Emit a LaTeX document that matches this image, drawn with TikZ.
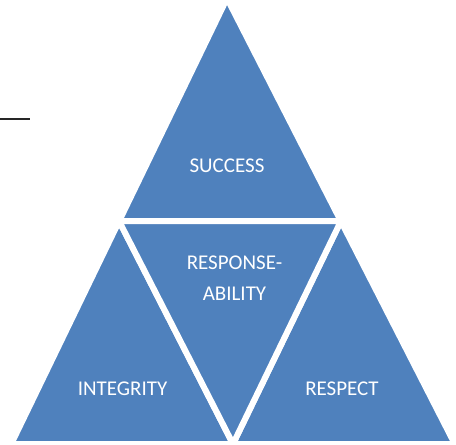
\documentclass[tikz,border=0pt]{standalone}
\usepackage{fontspec}
\setmainfont{Carlito}
\usetikzlibrary{calc}
\definecolor{pyrblue}{HTML}{4F81BD}

\begin{document}
\begin{tikzpicture}[x=1pt,y=-1pt,
    segment/.style={fill=pyrblue,draw=white,line width=6pt,line join=miter},
    word/.style={text=white,font=\fontsize{21}{31}\selectfont,align=center,inner sep=0pt},
    stub/.style={draw=black!85,line width=1.6pt}]
  \useasboundingbox (0,0) rectangle (456,445);
  \coordinate (apex) at (227,-1.7);
  \coordinate (base-l) at (11.2,444);
  \coordinate (base-r) at (454.8,444);
  \coordinate (mid-l) at ($(apex)!0.5!(base-l)$);
  \coordinate (mid-r) at ($(apex)!0.5!(base-r)$);
  \coordinate (mid-b) at ($(base-l)!0.5!(base-r)$);
  \draw [segment] (apex) -- (mid-l) -- (mid-r) -- cycle;
  \draw [segment] (mid-l) -- (base-l) -- (mid-b) -- cycle;
  \draw [segment] (mid-r) -- (mid-b) -- (base-r) -- cycle;
  \draw [segment] (mid-l) -- (mid-r) -- (mid-b) -- cycle;
  \node [word] (success) at (227,165.5) {SUCCESS};
  \node [word] (responsibility) at (234.5,278.5) {RESPONSE-\\ABILITY};
  \node [word] (integrity) at (122.5,388.5) {INTEGRITY};
  \node [word] (respect) at (342,388.5) {RESPECT};
  \coordinate (stub-a) at (0,119);
  \coordinate (stub-b) at (30,119);
  \draw [stub] (stub-a) -- (stub-b);
\end{tikzpicture}
\end{document}
